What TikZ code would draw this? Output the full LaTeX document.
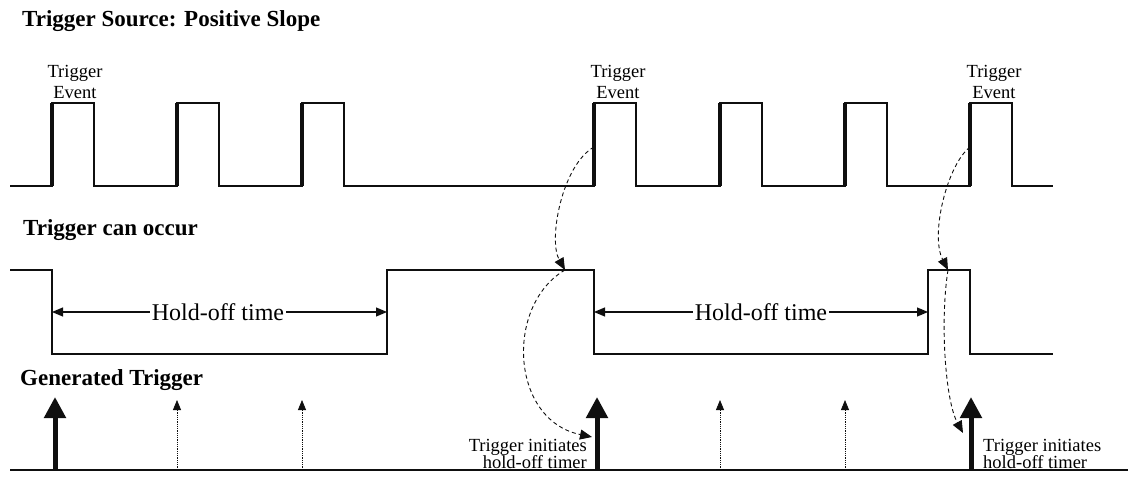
\documentclass[tikz,border=0pt]{standalone}
\usepackage{fontspec}
\setmainfont{Liberation Serif}
\usetikzlibrary{arrows.meta}
\definecolor{wire}{RGB}{15,15,15}
\newcommand\tightlines{\lineskiplimit=-20pt\relax}
\tikzset{holdsheet/.style={x=1pt,y=-1pt,line join=miter}}
\tikzset{sig/.style={wire,line width=1.3pt},
         riser/.style={wire,line width=3.2pt},
         trigup/.style={wire,line width=5pt,-{Triangle[width=21pt,length=21pt]}},
         ghostup/.style={wire,line width=0.8pt,densely dotted,-{Triangle[width=8pt,length=10pt]}},
         cause/.style={wire,line width=0.9pt,dash pattern=on 4pt off 3pt,-{Triangle[width=10pt,length=12pt]}},
         holdline/.style={wire,line width=1.2pt,-{Triangle[width=9pt,length=11pt]}},
         hdr/.style={font=\bfseries\fontsize{23}{26}\selectfont,anchor=base west,inner sep=0pt},
         evtlbl/.style={font=\fontsize{18.5}{21}\selectfont,align=center,anchor=south,inner sep=0pt},
         holdtxt/.style={font=\fontsize{24}{26}\selectfont,inner xsep=2pt,inner ysep=0pt},
         initlbl/.style={font=\fontsize{18.5}{17}\selectfont\tightlines,inner sep=0pt}}

\begin{document}
\begin{tikzpicture}[holdsheet]
  \useasboundingbox (0,0) rectangle (1128,481);
  \def\lo{186} \def\hi{103} \def\pw{42}
  % trigger source
  \node[hdr] (src) at (22,27) {Trigger Source: Positive Slope};
  \draw[sig] (10,\lo) \foreach \x in {52,177,302,594,720,845,970} { -| (\x,\hi) -| ({\x+\pw},\lo) } -- (1053,\lo);
  \draw[wire,line width=2pt] (10,\lo) -| (52,\hi) -| (94,\lo);
  \foreach \x [count=\i] in {52,177,302,594,720,845,970} {
    \draw[riser] (\x,\lo) -- (\x,\hi);
    \coordinate (ev\i) at (\x,147);
  }
  \foreach \i/\x in {1/75,4/618,7/994}
    \node[evtlbl] (evt\i) at (\x,99) {Trigger\\Event};

  % trigger can occur
  \node[hdr] (can) at (23,236) {Trigger can occur};
  \draw[sig] (10,270) -| (52,354) -| (387,270) -| (594,354) -| (928,270) -| (970,354) -- (1053,354);
  \coordinate (hs1) at (52,312);  \coordinate (he1) at (387,312);
  \coordinate (hs2) at (594,312); \coordinate (he2) at (928,312);
  \node[holdtxt] (hold1) at (218,312) {Hold-off time};
  \node[holdtxt] (hold2) at (761,312) {Hold-off time};
  \foreach \i in {1,2} {
    \draw[holdline] (hold\i) -- (hs\i);
    \draw[holdline] (hold\i) -- (he\i);
  }

  % generated trigger
  \node[hdr] (gen) at (20,385) {Generated Trigger};
  \coordinate (gl) at (10,470); \coordinate (gr) at (1128,470);
  \draw[sig] (gl) -- (gr);
  \foreach \i/\x in {1/55,4/597,7/971} {
    \coordinate (tb\i) at (\x,470);
    \coordinate (tt\i) at (\x,397);
    \draw[trigup] (tb\i) -- (tt\i);
  }
  \foreach \x [count=\i] in {177,302,720,845} {
    \coordinate (gb\i) at (\x,470);
    \coordinate (gt\i) at (\x,400);
    \draw[ghostup] (gb\i) -- (gt\i);
  }

  % cause and effect
  \coordinate (ok1) at (565,270);  \coordinate (ok2) at (948,270);
  \coordinate (hit1) at (592,437); \coordinate (hit2) at (963,433);
  \draw[cause] (ev4) .. controls +(-32,18) and +(-17,-30) .. (ok1);
  \draw[cause] (ok1) .. controls +(-60,35) and +(-82,-17) .. (hit1);
  \draw[cause] (ev7) .. controls +(-23,18) and +(-18,-35) .. (ok2);
  \draw[cause] (ok2) .. controls +(-8,50) and +(-18,-33) .. (hit2);
  \node[initlbl,align=right,anchor=south east] (why1) at (587,468.5) {Trigger initiates\\hold-off timer};
  \node[initlbl,align=left,anchor=south west] (why2) at (983,468.5) {Trigger initiates\\hold-off timer};
\end{tikzpicture}
\end{document}
